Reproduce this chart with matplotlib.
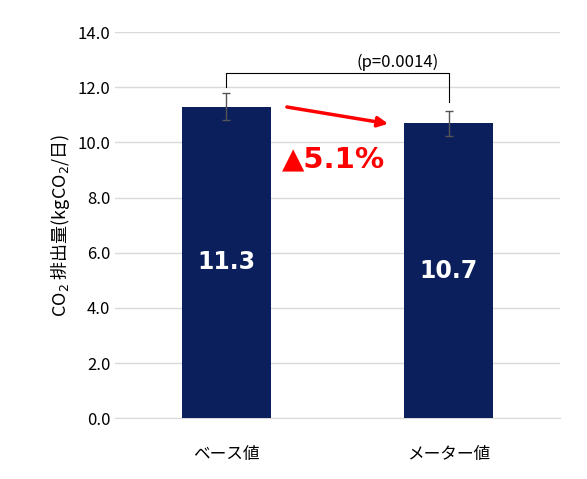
import matplotlib
matplotlib.use("Agg")
import matplotlib.pyplot as plt

plt.rcParams['font.family'] = ['Noto Sans CJK JP', 'DejaVu Sans']

categories = ["ベース値", "メーター値"]
values = [11.3, 10.7]
errors = [0.5, 0.45]
yticks = [0, 2, 4, 6, 8, 10, 12, 14]
pval = "(p=0.0014)"
change = "▲5.1%"

fig = plt.figure(figsize=(5.87, 4.79), dpi=100)
ax = fig.add_axes([0.196, 0.127, 0.758, 0.806])
x = list(range(len(categories)))
ax.bar(x, values, width=0.4, color="#0b1f5c", zorder=3)
ax.errorbar(x, values, yerr=errors, fmt='none', ecolor="#555555", capsize=3, lw=1, zorder=4)
for xi, v in zip(x, values):
    ax.text(xi, v / 2, f"{v:.1f}", color="white", fontsize=17, fontweight="bold",
            ha="center", va="center", family="DejaVu Sans", zorder=5)
ax.set_xlim(-0.5, 1.5)
ax.set_ylim(0, 14)
ax.set_yticks(yticks)
ax.set_yticklabels([f"{t:.1f}" for t in yticks], fontsize=12)
ax.set_xticks(x)
ax.set_xticklabels(categories, fontsize=12)
ax.tick_params(length=0)
ax.tick_params(axis='x', pad=20)
ax.grid(axis='y', color="#d9d9d9", lw=1, zorder=0)
for s in ["top", "right", "left"]:
    ax.spines[s].set_visible(False)
ax.spines["bottom"].set_color("#d9d9d9")
ax.set_ylabel("CO$_2$ 排出量(kgCO$_2$/日)", fontsize=13)

# bracket
ax.plot([0, 0, 1, 1], [values[0] + errors[0] + 0.2, 12.5, 12.5, values[1] + errors[1] + 0.3],
        color="black", lw=0.8, zorder=5)
ax.text(0.77, 12.6, pval, ha="center", va="bottom", fontsize=12)
ax.annotate("", xy=(0.74, 10.66), xytext=(0.26, 11.3),
            arrowprops=dict(arrowstyle="-|>", color="red", lw=2.5, mutation_scale=15), zorder=6)
ax.text(0.48, 9.4, change, color="red", fontsize=21, ha="center", va="center",
        family=["DejaVu Sans"], fontweight="bold", zorder=6)
fig.savefig("out.png", dpi=100)
